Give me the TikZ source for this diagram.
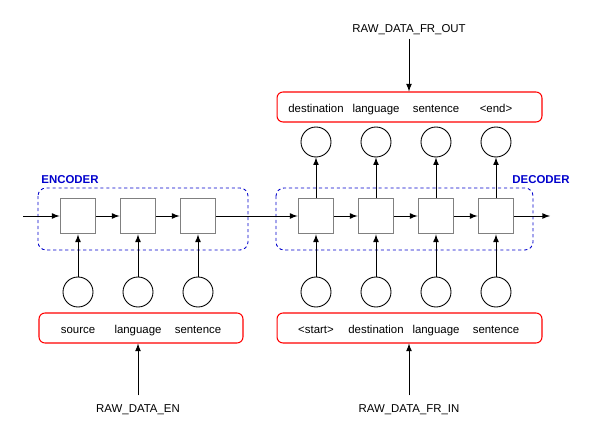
\documentclass[tikz,border=0pt]{standalone}
\usepackage{fontspec}
\setmainfont{Liberation Sans}
\usetikzlibrary{arrows,positioning,shapes}
\definecolor{cellgray}{rgb}{0.5,0.5,0.5}
\definecolor{seqblue}{rgb}{0.0,0.0,0.8}
\definecolor{wordred}{rgb}{1.0,0.0,0.0}

\begin{document}
\begin{tikzpicture}[x=0.02cm,y=-0.02cm,>=latex,
    font=\fontsize{6.5}{7.8}\selectfont,
    cell/.style={draw=cellgray,line width=1.1pt,fill=white,minimum size=0.7cm,inner sep=0pt},
    emb/.style={draw,circle,line width=0.5pt,minimum size=0.6cm,inner sep=0pt},
    word/.style={text height=1.6ex,text depth=0.45ex,inner sep=1pt},
    wordbox/.style={draw=wordred,line width=0.6pt,rounded corners=0.12cm,minimum height=0.6cm,inner sep=0pt},
    block/.style={draw=seqblue,dash pattern=on 1.8pt off 1.6pt,line width=0.5pt,rounded corners=0.16cm},
    blocklabel/.style={word,text=seqblue,font=\fontsize{6.5}{7.8}\selectfont\bfseries},
    link/.style={->,line width=0.5pt}]
  \useasboundingbox (0,0) rectangle (602,428);

  % dashed blocks
  \draw[block] (38,188) rectangle (248,250);
  \draw[block] (276,188) rectangle (533,250);
  \node[blocklabel] (enclabel) at (70,178) {ENCODER};
  \node[blocklabel] (declabel) at (541,178) {DECODER};

  % encoder
  \node[wordbox,minimum width=4.08cm] (srcbox) at (141,328) {};
  \foreach \i/\x/\w in {1/78/source,2/138/language,3/198/sentence} {
    \node[cell] (e\i) at (\x,216) {};
    \node[emb] (ex\i) at (\x,292) {};
    \node[word] (ew\i) at (\x,328) {\w};
    \draw[link] (ex\i) -- (e\i);
  }
  \node[word] (rawen) at (138,407) {RAW\_DATA\_EN};
  \draw[link] (rawen) -- (rawen |- srcbox.south);

  % decoder
  \node[wordbox,minimum width=5.3cm] (inbox) at (409.5,328) {};
  \node[wordbox,minimum width=5.3cm] (outbox) at (409.5,107) {};
  \foreach \i/\x/\w/\v in {1/316/<start>/destination,2/376/destination/language,3/436/language/sentence,4/496/sentence/<end>} {
    \node[cell] (d\i) at (\x,216) {};
    \node[emb] (dx\i) at (\x,292) {};
    \node[emb] (dy\i) at (\x,142) {};
    \node[word] (dw\i) at (\x,328) {\w};
    \node[word] (dv\i) at (\x,107) {\v};
    \draw[link] (dx\i) -- (d\i);
    \draw[link] (d\i) -- (dy\i);
  }
  \node[word] (rawin) at (409,407) {RAW\_DATA\_FR\_IN};
  \draw[link] (rawin) -- (rawin |- inbox.south);
  \node[word] (rawout) at (409,27) {RAW\_DATA\_FR\_OUT};
  \draw[link] (rawout) -- (rawout |- outbox.north);

  % recurrent chain
  \coordinate (chainin) at (23,216);
  \coordinate (chainout) at (550,216);
  \draw[link] (chainin) -- (e1);
  \draw[link] (e1) -- (e2);
  \draw[link] (e2) -- (e3);
  \draw[link] (e3) -- (d1);
  \draw[link] (d1) -- (d2);
  \draw[link] (d2) -- (d3);
  \draw[link] (d3) -- (d4);
  \draw[link] (d4) -- (chainout);
\end{tikzpicture}
\end{document}
